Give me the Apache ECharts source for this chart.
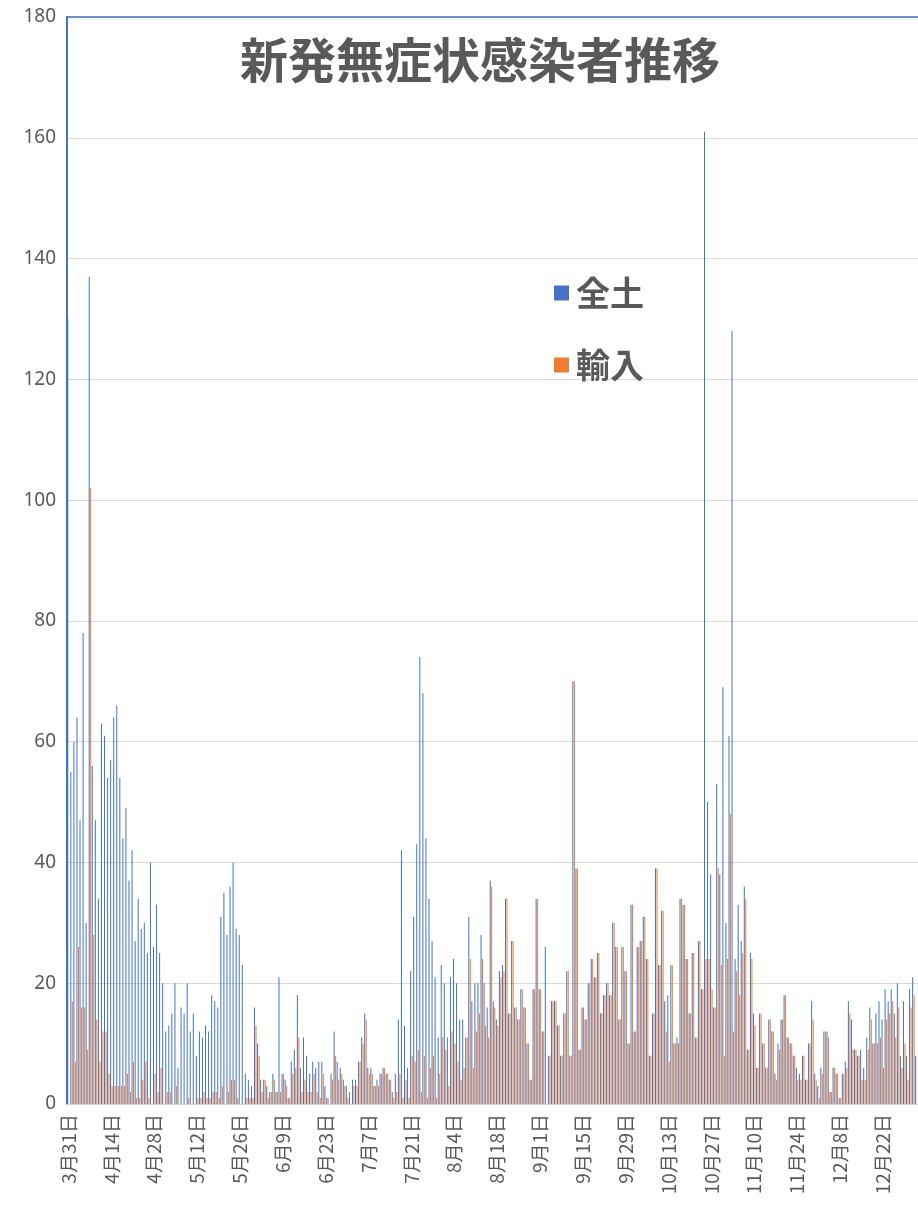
<!DOCTYPE html>
<html>
<head>
<meta charset="utf-8">
<script src="https://cdn.jsdelivr.net/npm/echarts@6/dist/echarts.min.js"></script>
<style>
  html, body { margin: 0; padding: 0; background: #fff; }
  #chart { width: 918px; height: 1216px; }
</style>
</head>
<body>
<div id="chart"></div>
<script>
    // daily counts from 3/31, one entry per day
    const startDate = [2020, 3, 31];
    const dayCount = 278;

    const zendo = [
        130, 55, 60, 64, 47, 78, 30, 137, 56, 47, 34, 63, 61, 54,
        57, 64, 66, 54, 44, 49, 37, 42, 27, 34, 29, 30, 25, 40,
        26, 33, 25, 20, 12, 13, 15, 20, 6, 16, 15, 20, 12, 15,
        8, 12, 11, 13, 12, 18, 17, 16, 31, 35, 28, 36, 40, 29,
        28, 23, 5, 4, 3, 16, 10, 4, 4, 3, 2, 5, 2, 21,
        5, 4, 1, 7, 9, 18, 6, 11, 8, 5, 7, 6, 7, 7,
        3, 1, 5, 12, 7, 6, 4, 3, 2, 4, 4, 7, 11, 15,
        6, 6, 3, 4, 5, 6, 5, 4, 2, 5, 14, 42, 13, 6,
        22, 31, 43, 74, 68, 44, 34, 27, 21, 11, 23, 20, 11, 21,
        24, 20, 14, 14, 11, 31, 17, 20, 20, 28, 20, 16, 37, 17,
        14, 22, 23, 34, 15, 27, 16, 14, 19, 16, 10, 4, 19, 34,
        19, 12, 26, 8, 17, 17, 13, 8, 15, 22, 8, 70, 39, 9,
        16, 14, 20, 24, 21, 25, 15, 18, 20, 18, 30, 26, 14, 26,
        22, 10, 33, 12, 26, 27, 31, 24, 8, 15, 39, 23, 32, 17,
        18, 23, 10, 11, 34, 33, 24, 15, 25, 11, 27, 19, 161, 50,
        38, 16, 53, 38, 69, 30, 61, 128, 24, 33, 27, 36, 9, 25,
        15, 6, 15, 10, 6, 14, 12, 5, 10, 14, 18, 11, 10, 8,
        6, 5, 8, 4, 10, 17, 5, 3, 6, 12, 12, 2, 6, 5,
        1, 5, 7, 17, 14, 9, 8, 9, 6, 11, 16, 10, 15, 17,
        14, 19, 17, 19, 15, 20, 8, 17, 8, 19, 21, 8
    ];

    const yunyu = [
        0, 17, 7, 26, 16, 16, 9, 102, 28, 14, 7, 12, 12, 5,
        3, 3, 3, 3, 3, 5, 2, 7, 1, 1, 4, 7, 1, 0,
        5, 2, 6, 0, 2, 2, 0, 3, 0, 0, 0, 1, 0, 0,
        1, 1, 2, 1, 1, 2, 2, 1, 3, 0, 2, 4, 4, 1,
        0, 0, 1, 1, 1, 13, 8, 2, 4, 1, 2, 4, 2, 2,
        5, 3, 1, 5, 6, 11, 2, 4, 2, 2, 5, 2, 1, 5,
        1, 0, 4, 8, 4, 5, 3, 1, 0, 3, 3, 7, 10, 14,
        5, 5, 3, 3, 5, 6, 5, 4, 1, 2, 5, 1, 4, 1,
        8, 7, 9, 2, 8, 1, 6, 8, 1, 5, 11, 9, 3, 12,
        10, 7, 4, 6, 11, 24, 6, 12, 15, 24, 13, 11, 36, 16,
        13, 21, 22, 34, 15, 27, 16, 14, 19, 16, 10, 4, 19, 34,
        19, 12, 0, 8, 17, 17, 13, 8, 15, 22, 8, 70, 39, 9,
        16, 14, 20, 24, 21, 25, 15, 18, 20, 18, 30, 26, 14, 26,
        22, 10, 33, 12, 26, 27, 31, 24, 8, 15, 39, 23, 32, 12,
        7, 23, 10, 10, 34, 33, 24, 15, 25, 11, 27, 19, 24, 24,
        19, 16, 39, 23, 8, 24, 48, 12, 22, 18, 25, 34, 9, 24,
        13, 6, 15, 10, 6, 14, 12, 4, 9, 14, 18, 11, 10, 8,
        4, 4, 8, 4, 10, 14, 4, 1, 5, 12, 11, 2, 6, 5,
        1, 5, 6, 15, 9, 9, 8, 4, 4, 9, 14, 10, 10, 11,
        6, 14, 15, 17, 11, 16, 6, 10, 4, 16, 18, 0
    ];

    const seriesNames = ['全土', '輸入'];
    const yTicks = { min: 0, max: 180, interval: 20 };

    const days = [];
    const d0 = new Date(startDate[0], startDate[1] - 1, startDate[2]);
    for (let i = 0; i < dayCount; i++) {
        const d = new Date(d0.getFullYear(), d0.getMonth(), d0.getDate() + i);
        days.push((d.getMonth() + 1) + '月' + d.getDate() + '日');
    }

    const blue = '#4472C4';
    const orange = '#ED7D31';
    const gray = '#595959';
    const font = '"Noto Sans", "Noto Sans CJK JP", sans-serif';
    const cjk = '"Noto Sans CJK JP", sans-serif';

    const chart = echarts.init(document.getElementById('chart'));

    const option = {
        animation: false,
        textStyle: { fontFamily: font },
        title: {
            text: '新発無症状感染者推移',
            left: 475,
            top: 31,
            textAlign: 'center',
            textStyle: {
                fontFamily: cjk,
                fontSize: 48,
                fontWeight: 'bold',
                color: gray
            }
        },
        legend: {
            orient: 'vertical',
            left: 549,
            top: 271,
            itemGap: 38,
            itemWidth: 15,
            itemHeight: 15,
            icon: 'rect',
            data: seriesNames,
            textStyle: {
                fontFamily: cjk,
                fontSize: 34,
                fontWeight: 'bold',
                color: gray,
                padding: [0, 0, 0, 2]
            }
        },
        grid: {
            left: 67,
            right: 0,
            top: 17,
            bottom: 112,
            containLabel: false
        },
        xAxis: [
            {
                type: 'category',
                data: days,
                boundaryGap: true,
                axisLine: { lineStyle: { color: '#d9d9d9', width: 1 } },
                axisTick: {
                    interval: 13,
                    length: 6,
                    lineStyle: { color: '#d9d9d9' }
                },
                axisLabel: {
                    interval: 13,
                    rotate: 90,
                    fontSize: 19,
                    color: gray,
                    margin: 10,
                    fontFamily: cjk
                }
            },
            {
                // blue frame line along the top of the plot
                type: 'category',
                data: days,
                position: 'top',
                axisLine: { lineStyle: { color: blue, width: 1.5 } },
                axisTick: { show: false },
                axisLabel: { show: false },
                splitLine: { show: false }
            }
        ],
        yAxis: {
            type: 'value',
            min: yTicks.min,
            max: yTicks.max,
            interval: yTicks.interval,
            axisLine: { show: true, lineStyle: { color: blue, width: 2 } },
            axisTick: { show: false },
            axisLabel: {
                fontSize: 19,
                color: gray,
                margin: 11
            },
            splitLine: { lineStyle: { color: '#d9d9d9', width: 1 } }
        },
        series: [
            {
                name: seriesNames[0],
                type: 'bar',
                data: zendo,
                barWidth: 1,
                barGap: '50%',
                itemStyle: { color: blue }
            },
            {
                name: seriesNames[1],
                type: 'bar',
                data: yunyu,
                barWidth: 1,
                barGap: '50%',
                itemStyle: { color: orange }
            }
        ]
    };

    chart.setOption(option);
</script>
</body>
</html>
